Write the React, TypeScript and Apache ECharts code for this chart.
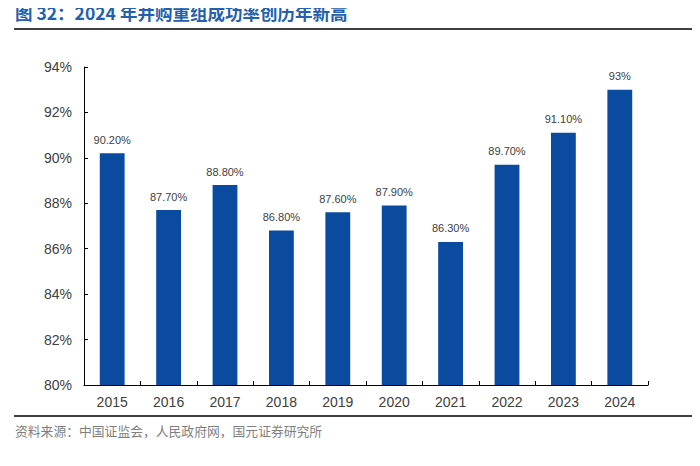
import React, { useEffect, useRef } from "react";
import * as echarts from "echarts";

const years = ["2015", "2016", "2017", "2018", "2019", "2020", "2021", "2022", "2023", "2024"];
const rates = [90.2, 87.7, 88.8, 86.8, 87.6, 87.9, 86.3, 89.7, 91.1, 93];
const labels = ["90.20%", "87.70%", "88.80%", "86.80%", "87.60%", "87.90%", "86.30%", "89.70%", "91.10%", "93%"];
const title = "图 32：2024 年并购重组成功率创历年新高";
const source = "资料来源：中国证监会，人民政府网，国元证券研究所";

export default function App() {
  const ref = useRef<HTMLDivElement>(null);
  useEffect(() => {
    const chart = echarts.init(ref.current!, null, { renderer: "svg" });
    chart.setOption({
      animation: false,
      backgroundColor: "#ffffff",
      graphic: [
        {
          type: "text",
          left: 15,
          top: 4,
          style: {
            text: title,
            fill: "#2560AD",
            font: "bold 17.5px 'Noto Sans CJK SC', sans-serif",
          },
        },
        {
          type: "line",
          shape: { x1: 14, y1: 29, x2: 700, y2: 29 },
          style: { stroke: "#000", lineWidth: 1.5 },
        },
        {
          type: "line",
          shape: { x1: 14, y1: 416, x2: 700, y2: 416 },
          style: { stroke: "#000", lineWidth: 1.5 },
        },
        {
          type: "text",
          left: 15,
          top: 424,
          style: {
            text: source,
            fill: "#7f7f7f",
            font: "12.8px 'Noto Sans CJK SC', serif",
          },
        },
      ],
      grid: { left: 84, right: 52, top: 67, bottom: 81, containLabel: false },
      xAxis: {
        type: "category",
        data: years,
        axisLine: { show: true, lineStyle: { color: "#000", width: 1 } },
        axisTick: { show: true, inside: true, length: 4, lineStyle: { color: "#000" } },
        axisLabel: { color: "#404040", fontSize: 14, margin: 10, fontFamily: "Liberation Sans, Arial, sans-serif" },
      },
      yAxis: {
        type: "value",
        min: 80,
        max: 94,
        interval: 2,
        axisLine: { show: true, lineStyle: { color: "#000", width: 1 } },
        axisTick: { show: true, inside: true, length: 4, lineStyle: { color: "#000" } },
        splitLine: { show: false },
        axisLabel: {
          color: "#404040",
          fontSize: 14,
          margin: 12,
          fontFamily: "Liberation Sans, Arial, sans-serif",
          formatter: (v: number) => v + "%",
        },
      },
      series: [
        {
          type: "bar",
          data: rates,
          barWidth: "44%",
          itemStyle: { color: "#0A4BA0" },
          label: {
            show: true,
            position: "top",
            distance: 8,
            color: "#404040",
            fontSize: 11,
            fontFamily: "Liberation Sans, Arial, sans-serif",
            formatter: (p: any) => labels[p.dataIndex],
          },
        },
      ],
    });
    return () => chart.dispose();
  }, []);
  return <div ref={ref} style={{ width: 700, height: 466, margin: -8 }} />;
}
